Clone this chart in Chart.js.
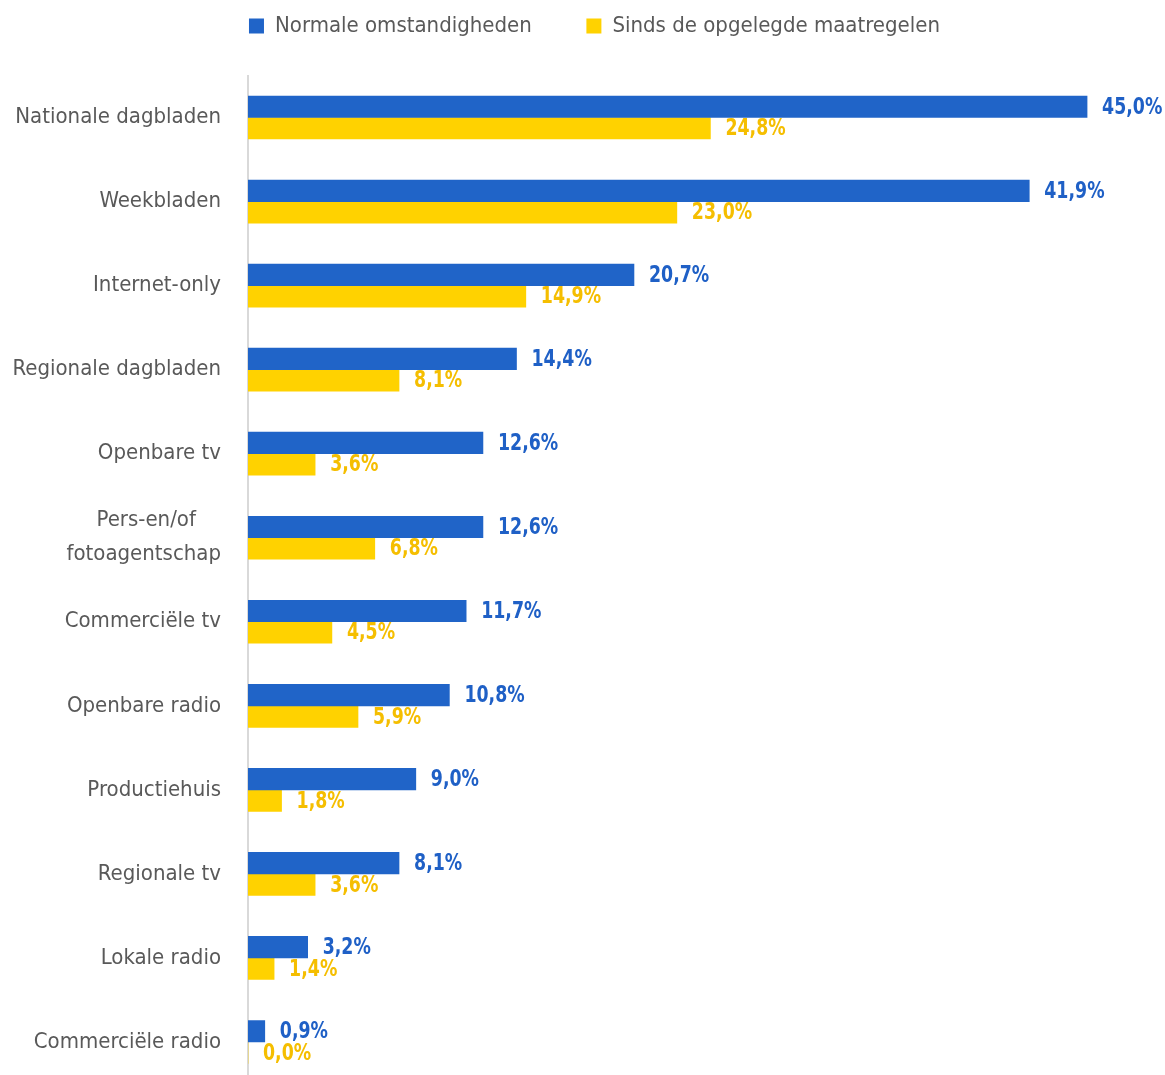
<!DOCTYPE html>
<html>
<head>
<meta charset="utf-8">
<script src="https://cdn.jsdelivr.net/npm/chart.js@4.4.1/dist/chart.umd.min.js"></script>
<style>
    html, body { margin: 0; padding: 0; background: #ffffff; overflow: hidden; }
    #Media_Chart { display: block; }
</style>
</head>
<body>
<canvas id="Media_Chart" width="1165" height="1084"></canvas>
<script>
// data
var categories = [
    'Nationale dagbladen', 'Weekbladen', 'Internet-only', 'Regionale dagbladen',
    'Openbare tv', ['Pers-en/of    ', 'fotoagentschap'], 'Commerciële tv', 'Openbare radio',
    'Productiehuis', 'Regionale tv', 'Lokale radio', 'Commerciële radio'
];
var seriesNames = ['Normale omstandigheden', 'Sinds de opgelegde maatregelen'];
var normaalValues = [45.0, 41.9, 20.7, 14.4, 12.6, 12.6, 11.7, 10.8, 9.0, 8.1, 3.2, 0.9];
var maatregelValues = [24.8, 23.0, 14.9, 8.1, 3.6, 6.8, 4.5, 5.9, 1.8, 3.6, 1.4, 0.0];

var FONT = "'DejaVu Sans Condensed', 'Liberation Sans Narrow', 'Roboto Condensed', sans-serif";
var barColors = ['#2064c8', '#ffd200'];
var labelColors = ['#1f60c6', '#f5be00'];

function formatPct(v) {
    return v.toFixed(1).replace('.', ',') + '%';
}

// value labels next to the bars (squeezed a bit, the original font is condensed)
var valueLabels = {
    id: 'valueLabels',
    afterDatasetsDraw: function(chart) {
        var ctx = chart.ctx;
        var squeeze = 0.84;
        ctx.save();
        ctx.font = 'bold 23px ' + FONT;
        ctx.textAlign = 'left';
        ctx.textBaseline = 'middle';
        chart.data.datasets.forEach(function(ds, i) {
            var meta = chart.getDatasetMeta(i);
            ctx.fillStyle = labelColors[i];
            meta.data.forEach(function(bar, j) {
                ctx.save();
                ctx.translate(bar.x + 15, bar.y + 1);
                ctx.scale(squeeze, 1);
                ctx.fillText(formatPct(ds.data[j]), 0, 0);
                ctx.restore();
            });
        });
        ctx.restore();
    }
};

// extra room under the legend, and legend nudged to the right
var legendMargin = {
    id: 'legendMargin',
    beforeInit: function(chart) {
        var fitValue = chart.legend.fit;
        chart.legend.fit = function() {
            fitValue.bind(chart.legend)();
            this.height += 28.5;
        };
    },
    afterLayout: function(chart) {
        chart.legend.left = 46;
    }
};

var Media_Chart = new Chart(document.getElementById('Media_Chart'), {
    type: 'bar',
    data: {
        labels: categories,
        datasets: [
            {
                label: seriesNames[0],
                data: normaalValues,
                backgroundColor: barColors[0],
                barThickness: 21.5
            },
            {
                label: seriesNames[1],
                data: maatregelValues,
                backgroundColor: barColors[1],
                barThickness: 21.5
            }
        ]
    },
    options: {
        indexAxis: 'y',
        responsive: false,
        animation: false,
        layout: {
            padding: { left: 0, right: 22, top: 0, bottom: 0 }
        },
        plugins: {
            tooltip: { enabled: false },
            legend: {
                position: 'top',
                labels: {
                    boxWidth: 15,
                    boxHeight: 15,
                    padding: 15,
                    color: '#595959',
                    font: { family: FONT, size: 22 },
                    generateLabels: function(chart) {
                        var items = Chart.defaults.plugins.legend.labels.generateLabels(chart);
                        items[0].text = items[0].text + '\u2003\u2003';
                        return items;
                    }
                }
            }
        },
        scales: {
            x: {
                display: false,
                min: 0,
                max: 48
            },
            y: {
                afterFit: function(scale) {
                    scale.width = 248;
                    scale.paddingTop = 0;
                    scale.paddingBottom = 0;
                },
                grid: { display: false, drawTicks: false },
                border: { display: true, color: '#d9d9d9', width: 2 },
                ticks: {
                    padding: 27,
                    color: '#595959',
                    font: { family: FONT, size: 22, lineHeight: 1.55 }
                }
            }
        }
    },
    plugins: [valueLabels, legendMargin]
});
</script>
</body>
</html>
